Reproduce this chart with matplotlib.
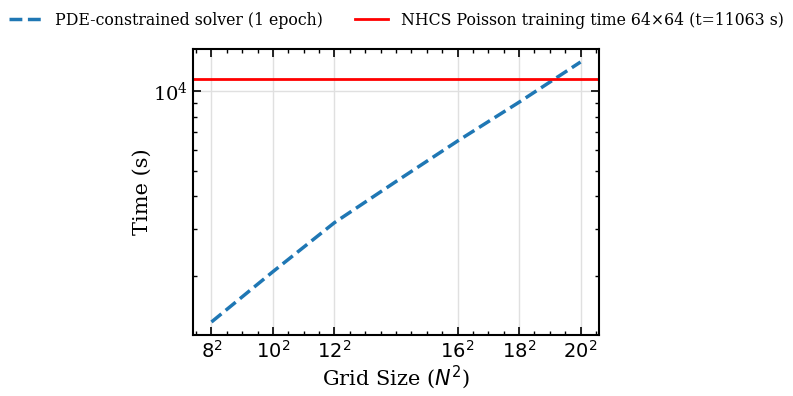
import matplotlib
matplotlib.use("Agg")
import matplotlib.pyplot as plt
from matplotlib.ticker import MultipleLocator

plt.rcParams['font.family'] = 'DejaVu Serif'
plt.rcParams['mathtext.fontset'] = 'dejavusans'

grid_n = [8, 10, 12, 14, 16, 18, 20]
solver_time = [1343, 2080, 3184, 4550, 6466, 9060, 12850]
nhcs_time = 11063
tick_n = [8, 10, 12, 16, 18, 20]
tick_labels = [r'$8^2$', r'$10^2$', r'$12^2$', r'$16^2$', r'$18^2$', r'$20^2$']

fig = plt.figure(figsize=(7.93, 3.96), dpi=100)
ax = fig.add_axes([193/793, 1-335/396, (599-193)/793, (335-49)/396])

ax.plot(grid_n, solver_time, linestyle='--', color='#1f77b4', linewidth=2.5,
        label='PDE-constrained solver (1 epoch)')
ax.axhline(nhcs_time, color='red', linewidth=2,
           label='NHCS Poisson training time 64×64 (t=11063 s)')
ax.set_yscale('log')
ax.set_xticks(tick_n)
ax.set_xticklabels(tick_labels)
ax.xaxis.set_minor_locator(MultipleLocator(0.5))
ax.tick_params(which='both', direction='in', top=True, right=True, labelsize=14)
ax.tick_params(which='major', length=6, width=1.2)
ax.tick_params(which='minor', length=3, width=1)
ax.grid(True, which='major', color='#e0e0e0', linewidth=1)
for s in ax.spines.values():
    s.set_linewidth(1.5)
ax.set_xlabel(r'Grid Size ($N^2$)', fontsize=15, labelpad=1)
ax.set_ylabel('Time (s)', fontsize=15, labelpad=1)

fig.legend(loc='upper center', bbox_to_anchor=(0.5, 1.006), ncol=2, frameon=False,
           fontsize=11.3, columnspacing=2.1, handlelength=2.1)

fig.savefig('out.png', dpi=100)
